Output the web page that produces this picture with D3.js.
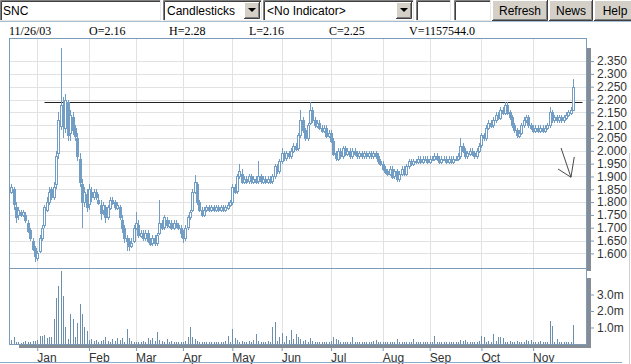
<!DOCTYPE html>
<html lang="en">
<head>
<meta charset="UTF-8">
<title>SNC</title>
<style>
  body { margin: 0; background: #fff; }
  svg { display: block; }
  .tb { font-family: Arial, "Liberation Sans", sans-serif; font-size: 12px; fill: #000; }
  .info { font-family: "Liberation Serif", "Times New Roman", serif; font-size: 12px; fill: #000; }
  .axis text { font-family: Arial, "Liberation Sans", sans-serif; font-size: 12px; fill: #333; }
</style>
<script src="https://d3js.org/d3.v7.min.js"></script>
</head>
<body>
<svg id="chart" width="631" height="364"></svg>
<script>
// toolbar content
const symbol = 'SNC';
const chartType = 'Candlesticks';
const indicator = '<No Indicator>';
const buttons = ['Refresh', 'News', 'Help'];
const lastDate = '11/26/03';

// daily candles, Dec 2002 - Nov 26 2003 (trading days)
const opens = [
  1.84,1.85,1.78,1.75,1.76,1.75,1.75,1.72,1.69,1.65,
  1.62,1.58,1.61,1.66,1.71,1.77,1.80,1.85,1.82,1.87,
  1.99,2.10,2.17,2.09,2.19,2.07,2.13,2.09,2.05,1.97,
  1.87,1.80,1.83,1.79,1.84,1.82,1.84,1.81,1.79,1.77,
  1.78,1.74,1.78,1.81,1.80,1.78,1.78,1.73,1.70,1.66,
  1.65,1.63,1.65,1.70,1.71,1.67,1.68,1.66,1.68,1.65,
  1.64,1.66,1.64,1.68,1.72,1.70,1.73,1.71,1.72,1.70,
  1.72,1.71,1.70,1.68,1.66,1.70,1.74,1.77,1.84,1.87,
  1.80,1.77,1.75,1.77,1.78,1.77,1.78,1.77,1.78,1.77,
  1.78,1.77,1.78,1.79,1.80,1.86,1.84,1.90,1.91,1.88,
  1.89,1.88,1.90,1.88,1.89,1.88,1.90,1.88,1.89,1.88,
  1.89,1.88,1.90,1.94,1.92,1.96,1.99,1.97,1.99,1.98,
  2.00,2.02,2.01,2.06,2.12,2.08,2.05,2.11,2.16,2.12,
  2.10,2.11,2.09,2.08,2.09,2.06,2.07,2.04,1.99,1.97,
  2.00,1.98,2.01,1.99,2.00,1.98,2.00,1.99,1.98,1.99,
  1.98,1.99,1.98,1.99,1.98,1.99,1.98,1.96,1.95,1.93,
  1.92,1.91,1.93,1.90,1.92,1.89,1.91,1.93,1.91,1.94,
  1.96,1.95,1.96,1.96,1.97,1.96,1.97,1.97,1.96,1.97,
  1.97,1.98,1.97,1.96,1.97,1.97,1.96,1.97,1.96,1.97,
  1.97,1.98,2.02,2.00,1.98,1.99,2.00,1.99,1.98,2.00,
  2.02,2.06,2.05,2.09,2.11,2.10,2.12,2.14,2.13,2.16,
  2.15,2.18,2.15,2.13,2.10,2.08,2.06,2.07,2.10,2.12,
  2.13,2.10,2.09,2.08,2.09,2.08,2.09,2.08,2.09,2.10,
  2.15,2.12,2.13,2.12,2.13,2.12,2.13,2.14,2.15,2.16
];
const highs = [
  1.87,1.86,1.80,1.78,1.77,1.77,1.76,1.73,1.70,1.66,
  1.63,1.61,1.67,1.71,1.79,1.82,1.86,1.86,1.88,2.00,
  2.15,2.40,2.21,2.22,2.20,2.16,2.15,2.10,2.07,1.99,
  1.89,1.86,1.85,1.87,1.86,1.85,1.85,1.83,1.81,1.80,
  1.79,1.79,1.82,1.82,1.81,1.80,1.79,1.75,1.71,1.67,
  1.66,1.66,1.71,1.76,1.73,1.69,1.69,1.69,1.69,1.66,
  1.67,1.67,1.68,1.81,1.73,1.75,1.74,1.73,1.73,1.73,
  1.73,1.72,1.71,1.69,1.71,1.75,1.77,1.85,1.905,1.88,
  1.81,1.78,1.78,1.79,1.79,1.79,1.79,1.79,1.79,1.79,
  1.79,1.79,1.80,1.81,1.87,1.87,1.91,1.95,1.93,1.90,
  1.90,1.91,1.91,1.90,1.90,1.96,1.91,1.90,1.90,1.90,
  1.90,1.91,1.95,1.95,1.97,2.01,2.00,2.00,2.00,2.01,
  2.03,2.03,2.07,2.16,2.13,2.09,2.11,2.19,2.17,2.13,
  2.12,2.12,2.10,2.10,2.10,2.08,2.08,2.05,2.00,2.01,
  2.01,2.02,2.02,2.01,2.01,2.01,2.01,2.00,2.00,2.00,
  2.00,2.00,2.00,2.00,2.00,2.00,1.99,1.97,1.96,1.94,
  1.93,1.94,1.94,1.93,1.93,1.92,1.94,1.94,1.95,1.97,
  1.97,1.97,1.97,1.98,1.98,1.98,1.98,1.98,1.98,1.98,
  1.99,1.99,1.98,1.98,1.98,1.98,1.98,1.98,1.98,1.98,
  1.99,2.05,2.03,2.01,2.00,2.01,2.01,2.00,2.01,2.03,
  2.07,2.07,2.10,2.12,2.12,2.13,2.15,2.15,2.17,2.17,
  2.19,2.19,2.16,2.14,2.11,2.09,2.08,2.11,2.13,2.14,
  2.14,2.11,2.10,2.10,2.10,2.10,2.10,2.10,2.11,2.17,
  2.16,2.14,2.14,2.14,2.14,2.14,2.15,2.16,2.17,2.28
];
const lows = [
  1.83,1.77,1.72,1.73,1.74,1.74,1.72,1.68,1.65,1.61,
  1.565,1.57,1.60,1.65,1.70,1.76,1.79,1.81,1.81,1.85,
  1.97,2.08,2.05,2.07,2.04,2.04,2.06,2.04,1.96,1.86,
  1.70,1.78,1.76,1.77,1.80,1.81,1.81,1.79,1.73,1.75,
  1.72,1.73,1.77,1.79,1.77,1.77,1.73,1.68,1.64,1.61,
  1.61,1.62,1.64,1.69,1.66,1.66,1.65,1.65,1.64,1.63,
  1.63,1.63,1.63,1.67,1.69,1.69,1.70,1.70,1.69,1.69,
  1.70,1.69,1.66,1.64,1.65,1.69,1.73,1.76,1.83,1.79,
  1.76,1.74,1.74,1.76,1.76,1.76,1.76,1.76,1.76,1.76,
  1.76,1.76,1.77,1.78,1.79,1.83,1.83,1.89,1.87,1.87,
  1.87,1.87,1.87,1.87,1.87,1.87,1.87,1.87,1.87,1.87,
  1.87,1.87,1.89,1.91,1.91,1.95,1.96,1.96,1.97,1.97,
  1.99,2.00,2.00,2.05,2.07,2.04,2.04,2.10,2.11,2.09,
  2.09,2.08,2.07,2.07,2.05,2.05,2.03,1.98,1.96,1.96,
  1.97,1.97,1.98,1.98,1.97,1.97,1.98,1.97,1.97,1.97,
  1.97,1.97,1.97,1.97,1.97,1.97,1.95,1.94,1.92,1.91,
  1.90,1.90,1.89,1.89,1.88,1.88,1.90,1.90,1.90,1.93,
  1.94,1.94,1.95,1.95,1.95,1.95,1.96,1.95,1.95,1.96,
  1.96,1.96,1.95,1.95,1.96,1.95,1.95,1.95,1.95,1.96,
  1.96,1.97,1.99,1.97,1.97,1.98,1.98,1.97,1.97,1.99,
  2.01,2.04,2.04,2.08,2.09,2.09,2.11,2.12,2.12,2.14,
  2.14,2.14,2.12,2.09,2.07,2.05,2.05,2.06,2.09,2.11,
  2.09,2.08,2.07,2.07,2.07,2.07,2.07,2.07,2.08,2.09,
  2.11,2.11,2.11,2.11,2.11,2.11,2.12,2.13,2.14,2.16
];
const closes = [
  1.86,1.79,1.74,1.77,1.75,1.76,1.73,1.69,1.66,1.62,
  1.59,1.60,1.66,1.70,1.78,1.80,1.84,1.82,1.86,1.98,
  2.12,2.18,2.10,2.20,2.06,2.14,2.08,2.06,1.98,1.88,
  1.80,1.84,1.78,1.85,1.82,1.84,1.82,1.80,1.76,1.79,
  1.74,1.78,1.81,1.80,1.78,1.79,1.74,1.70,1.66,1.65,
  1.63,1.64,1.70,1.72,1.67,1.68,1.66,1.68,1.65,1.64,
  1.66,1.64,1.67,1.72,1.70,1.74,1.71,1.72,1.70,1.72,
  1.71,1.70,1.68,1.66,1.70,1.74,1.76,1.84,1.88,1.80,
  1.77,1.75,1.77,1.78,1.77,1.78,1.77,1.78,1.77,1.78,
  1.77,1.78,1.79,1.80,1.86,1.84,1.90,1.92,1.88,1.89,
  1.88,1.90,1.88,1.89,1.88,1.90,1.88,1.89,1.88,1.89,
  1.88,1.90,1.94,1.92,1.96,1.99,1.97,1.99,1.98,2.00,
  2.02,2.01,2.06,2.12,2.08,2.05,2.10,2.16,2.12,2.10,
  2.11,2.09,2.08,2.09,2.06,2.07,2.04,1.99,1.97,2.00,
  1.98,2.01,1.99,2.00,1.98,2.00,1.99,1.98,1.99,1.98,
  1.99,1.98,1.99,1.98,1.99,1.98,1.96,1.95,1.93,1.92,
  1.91,1.93,1.90,1.92,1.89,1.91,1.93,1.91,1.94,1.96,
  1.95,1.96,1.96,1.97,1.96,1.97,1.97,1.96,1.97,1.97,
  1.98,1.97,1.96,1.97,1.97,1.96,1.97,1.96,1.97,1.97,
  1.98,2.02,2.00,1.98,1.99,2.00,1.99,1.98,2.00,2.02,
  2.06,2.05,2.09,2.11,2.10,2.12,2.14,2.13,2.16,2.15,
  2.18,2.15,2.13,2.10,2.08,2.06,2.07,2.10,2.12,2.13,
  2.10,2.09,2.08,2.09,2.08,2.09,2.08,2.09,2.10,2.15,
  2.12,2.13,2.12,2.13,2.12,2.13,2.14,2.15,2.16,2.25
];
// volume in millions of shares
const volumes = [
  0.25,0.40,0.12,0.15,0.08,0.10,0.20,0.12,0.15,0.18,
  0.20,0.25,0.50,0.50,0.55,0.35,0.40,0.45,1.50,2.80,
  3.50,4.40,2.90,1.00,0.30,1.80,1.50,0.40,1.30,2.40,
  1.80,1.00,0.80,0.25,0.30,0.20,0.25,0.15,0.20,0.25,
  0.40,0.20,0.15,0.30,0.20,0.35,0.25,0.35,0.15,0.90,
  0.35,0.20,0.15,0.12,0.10,0.15,0.20,0.15,0.35,0.25,
  0.35,0.20,0.70,0.25,0.20,0.15,0.30,0.12,0.20,0.10,
  0.15,0.10,0.12,0.15,0.20,0.40,1.00,0.45,0.30,0.20,
  0.15,0.12,0.10,0.12,0.10,0.12,0.10,0.15,0.10,0.12,
  0.15,0.20,0.50,0.15,0.90,0.35,0.25,0.15,0.20,0.10,
  0.15,0.20,0.10,0.25,0.60,0.20,0.12,0.15,0.10,0.20,
  0.15,1.05,1.35,0.20,0.40,0.65,0.15,0.50,0.25,0.85,
  0.30,0.60,0.45,0.30,0.20,0.25,0.15,0.35,0.20,0.15,
  0.12,0.15,0.10,0.12,0.15,0.10,0.20,0.40,0.30,0.25,
  0.12,0.15,0.10,0.12,0.15,0.40,0.12,0.10,0.12,0.10,
  0.12,0.10,0.15,0.10,0.20,0.25,0.15,0.12,0.10,0.12,
  0.10,0.12,0.15,0.10,0.30,0.12,0.10,0.15,0.12,0.10,
  0.12,0.30,0.10,0.15,0.12,0.10,0.12,0.15,0.10,0.12,
  0.50,0.12,0.10,0.15,0.12,0.10,0.12,0.10,0.15,0.12,
  0.15,0.25,0.20,0.25,0.12,0.15,0.10,0.12,0.15,0.20,
  0.50,0.45,0.15,0.20,0.15,0.60,0.20,0.40,0.45,0.35,
  0.15,0.12,0.20,0.15,0.12,0.20,0.15,0.12,0.15,0.25,
  0.20,0.25,0.12,0.15,0.10,0.20,0.12,0.15,0.12,1.40,
  1.10,0.15,0.30,0.15,0.12,0.15,0.12,0.10,0.15,1.157544
];

// month labels and the trading-day index where each month starts
const months = ['Jan', 'Feb', 'Mar', 'Apr', 'May', 'Jun', 'Jul', 'Aug', 'Sep', 'Oct', 'Nov'];
const monthStart = [11, 33, 53, 73, 94, 115, 136, 158, 178, 200, 222];

const priceTicks = [2.35, 2.30, 2.25, 2.20, 2.15, 2.10, 2.05, 2.00, 1.95, 1.90, 1.85, 1.80, 1.75, 1.70, 1.65, 1.60];
const volumeTicks = [3, 2, 1];

// drawn annotations (index, price)
const resistance = { price: 2.19, from: 14, to: 243 };
const arrowStrokes = [
  [[233.9, 2.011], [238.1, 1.897]],
  [[232.6, 1.929], [238.1, 1.897]],
  [[239.5, 1.976], [238.1, 1.897]]
];

const svg = d3.select('#chart');
const candleColor = '#729dc4';
const frameColor = '#7b9bb8';
const shadowColor = '#868c94';

// ---------- toolbar ----------
const tb = svg.append('g');

function sunken(x, y, w, h) {
  tb.append('rect').attr('x', x).attr('y', y).attr('width', w).attr('height', h).attr('fill', '#fff');
  tb.append('path').attr('d', `M${x + 0.5},${y + h}V${y + 0.5}H${x + w}`).attr('stroke', '#808080').attr('fill', 'none');
  tb.append('path').attr('d', `M${x + 1.5},${y + h - 1}V${y + 1.5}H${x + w - 1}`).attr('stroke', '#404040').attr('fill', 'none');
  tb.append('path').attr('d', `M${x},${y + h - 0.5}H${x + w - 0.5}V${y}`).attr('stroke', '#e8e8e8').attr('fill', 'none');
}

function raised(x, y, w, h) {
  tb.append('rect').attr('x', x).attr('y', y).attr('width', w).attr('height', h).attr('fill', '#d4d0c8');
  tb.append('path').attr('d', `M${x + 0.5},${y + h}V${y + 0.5}H${x + w}`).attr('stroke', '#fff').attr('fill', 'none');
  tb.append('path').attr('d', `M${x},${y + h - 0.5}H${x + w - 0.5}V${y}`).attr('stroke', '#404040').attr('fill', 'none');
  tb.append('path').attr('d', `M${x + 1},${y + h - 1.5}H${x + w - 1.5}V${y + 1}`).attr('stroke', '#808080').attr('fill', 'none');
}

function dropdown(x, w, label) {
  sunken(x, 0, w, 21);
  tb.append('text').attr('class', 'tb').attr('x', x + 4).attr('y', 15).text(label);
  raised(x + w - 18, 2, 16, 17);
  const cx = x + w - 10;
  tb.append('path').attr('d', `M${cx - 4},8H${cx + 4}L${cx},12Z`).attr('fill', '#000');
}

sunken(0, 0, 161, 21);
tb.append('text').attr('class', 'tb').attr('x', 3).attr('y', 15).text(symbol);
dropdown(163, 99, chartType);
dropdown(263, 151, indicator);
sunken(416, 0, 35, 21);
sunken(454, 0, 37, 21);

const btnX = [492, 549, 594];
const btnW = [56, 44, 42];
buttons.forEach((b, i) => {
  raised(btnX[i], 0, btnW[i], 21);
  tb.append('text').attr('class', 'tb').attr('x', btnX[i] + btnW[i] / 2).attr('y', 15)
    .attr('text-anchor', 'middle').text(b);
});

svg.append('line').attr('x1', 0).attr('x2', 631).attr('y1', 21.5).attr('y2', 21.5).attr('stroke', '#a7bdd2');

// ---------- info line ----------
const last = closes.length - 1;
const info = [
  lastDate,
  'O=' + opens[last].toFixed(2),
  'H=' + highs[last].toFixed(2),
  'L=' + lows[last].toFixed(2),
  'C=' + closes[last].toFixed(2),
  'V=' + Math.round(volumes[last] * 1e6).toFixed(1)
];
svg.append('g').selectAll('text').data(info).join('text')
  .attr('class', 'info')
  .attr('x', (d, i) => 9 + i * 80)
  .attr('y', 35)
  .text(d => d);

// ---------- scales ----------
const pLeft = 9, pRight = 586, pTop = 38, pSplit = 268, pBottom = 344;
const x = d3.scaleLinear().domain([-1.02, 244.5]).range([pLeft, pRight]);
const y = d3.scaleLinear().domain([1.543, 2.44]).range([pSplit, pTop]);
const yv = d3.scaleLinear().domain([0, 4.606]).range([pBottom, pSplit]);
const px = i => Math.round(x(i)) + 0.5;

// shadows
svg.append('rect').attr('x', pRight + 1).attr('y', pTop + 10).attr('width', 4).attr('height', pSplit + 3 - pTop - 10).attr('fill', shadowColor);
svg.append('rect').attr('x', pRight + 1).attr('y', pSplit + 10).attr('width', 4).attr('height', pBottom + 4 - pSplit - 10).attr('fill', shadowColor);
svg.append('rect').attr('x', pLeft + 10).attr('y', pBottom + 1).attr('width', pRight + 5 - pLeft - 10).attr('height', 3).attr('fill', shadowColor);

// panel background
svg.append('rect').attr('x', pLeft).attr('y', pTop).attr('width', pRight - pLeft).attr('height', pBottom - pTop).attr('fill', '#fff');

// grid
const grid = svg.append('g').attr('shape-rendering', 'crispEdges').attr('stroke', '#e2e2e2');
grid.selectAll('.hg').data(priceTicks).join('line')
  .attr('x1', pLeft).attr('x2', pRight)
  .attr('y1', d => Math.round(y(d)) + 0.5).attr('y2', d => Math.round(y(d)) + 0.5);
grid.selectAll('.vg').data(monthStart).join('line')
  .attr('x1', d => px(d)).attr('x2', d => px(d))
  .attr('y1', pTop).attr('y2', pBottom);

// resistance line
svg.append('line')
  .attr('x1', px(resistance.from)).attr('x2', px(resistance.to))
  .attr('y1', Math.round(y(resistance.price)) + 0.5).attr('y2', Math.round(y(resistance.price)) + 0.5)
  .attr('stroke', '#222');

// candles
const candles = svg.append('g').attr('shape-rendering', 'crispEdges');
const idx = d3.range(closes.length);
candles.selectAll('line').data(idx).join('line')
  .attr('x1', px).attr('x2', px)
  .attr('y1', i => y(highs[i])).attr('y2', i => y(lows[i]))
  .attr('stroke', candleColor);
candles.selectAll('rect').data(idx).join('rect')
  .attr('x', i => px(i) - 1)
  .attr('width', 2)
  .attr('y', i => Math.round(y(Math.max(opens[i], closes[i]))) + 0.5)
  .attr('height', i => Math.max(1, Math.round(Math.abs(y(opens[i]) - y(closes[i])))))
  .attr('fill', i => closes[i] < opens[i] ? candleColor : '#fff')
  .attr('stroke', candleColor);

// volume bars
svg.append('g').attr('shape-rendering', 'crispEdges').selectAll('line').data(idx).join('line')
  .attr('x1', px).attr('x2', px)
  .attr('y1', pBottom).attr('y2', i => yv(volumes[i]))
  .attr('stroke', '#6c8fae');

// arrow annotation
svg.append('g').selectAll('line').data(arrowStrokes).join('line')
  .attr('x1', d => x(d[0][0])).attr('y1', d => y(d[0][1]))
  .attr('x2', d => x(d[1][0])).attr('y2', d => y(d[1][1]))
  .attr('stroke', '#333').attr('stroke-width', 0.9);

// frame
const frame = svg.append('g').attr('fill', 'none').attr('stroke', frameColor).attr('shape-rendering', 'crispEdges');
frame.append('rect').attr('x', pLeft + 0.5).attr('y', pTop + 0.5).attr('width', pRight - pLeft).attr('height', pBottom - pTop);
frame.append('line').attr('x1', pLeft).attr('x2', pRight).attr('y1', pSplit + 0.5).attr('y2', pSplit + 0.5);

// axes
const priceAxis = svg.append('g').attr('class', 'axis')
  .attr('transform', `translate(${pRight + 4},0)`)
  .call(d3.axisRight(y).tickValues(priceTicks).tickFormat(d3.format('.3f')).tickSize(4).tickPadding(3));
const volAxis = svg.append('g').attr('class', 'axis')
  .attr('transform', `translate(${pRight + 4},0)`)
  .call(d3.axisRight(yv).tickValues(volumeTicks).tickFormat(d => d.toFixed(1) + 'm').tickSize(4).tickPadding(3));
const monthAxis = svg.append('g').attr('class', 'axis')
  .attr('transform', `translate(0,${pBottom + 4})`)
  .call(d3.axisBottom(x).tickValues(monthStart).tickFormat((d, i) => months[i]).tickSize(3).tickPadding(2));
monthAxis.selectAll('text').attr('text-anchor', 'start').attr('x', -0.5);
[priceAxis, volAxis, monthAxis].forEach(a => {
  a.select('.domain').remove();
  a.selectAll('.tick line').attr('stroke', frameColor);
});

// page frame bits
svg.append('line').attr('x1', 0).attr('x2', 622).attr('y1', 362.5).attr('y2', 362.5).attr('stroke', '#8faac3');
svg.append('line').attr('x1', 629.5).attr('x2', 629.5).attr('y1', 153).attr('y2', 364).attr('stroke', '#cfcfcf');
</script>
</body>
</html>
